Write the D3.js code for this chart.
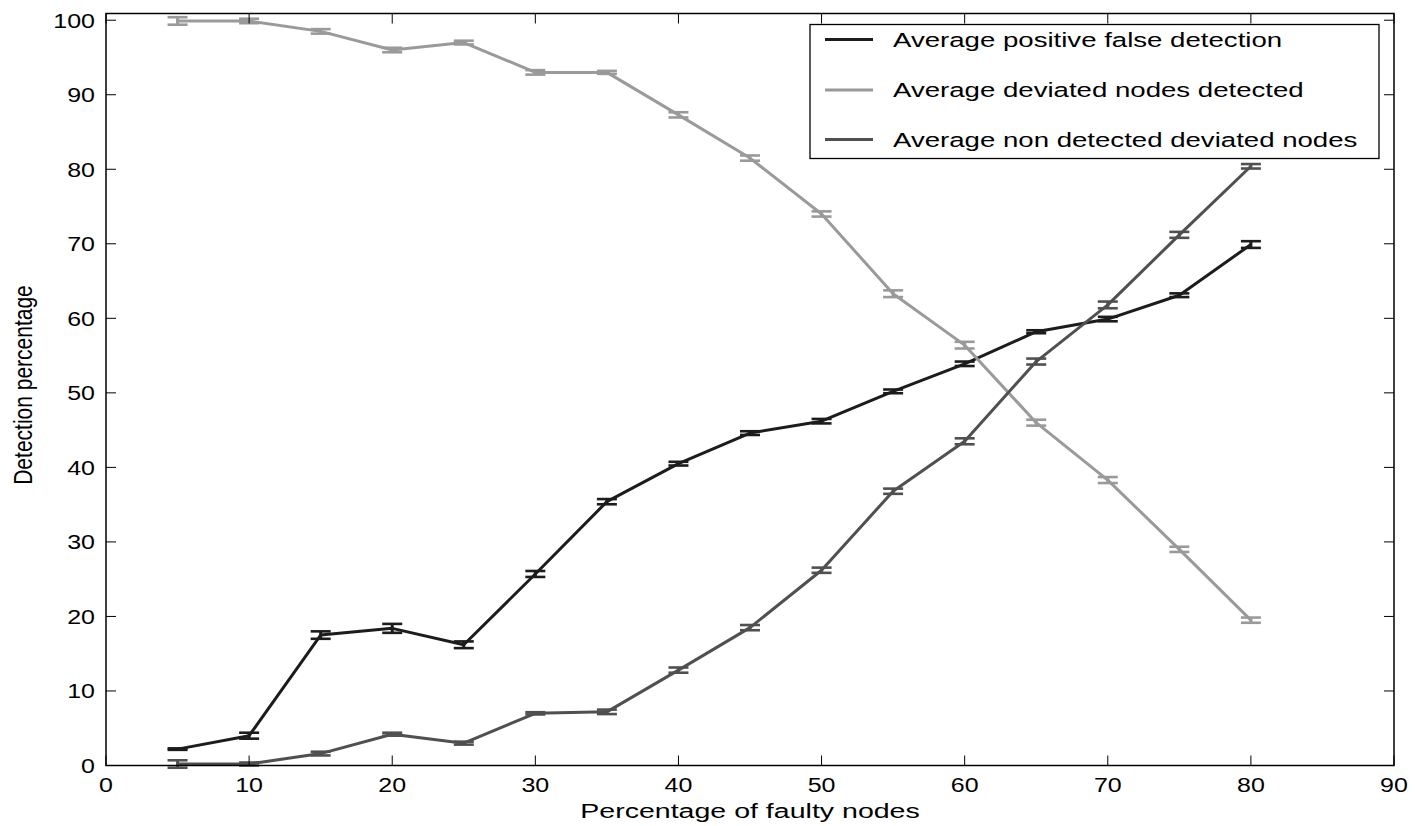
<!DOCTYPE html>
<html>
<head>
<meta charset="utf-8">
<script src="https://cdn.jsdelivr.net/npm/d3@7"></script>
<style>
  html, body { margin: 0; padding: 0; background: #fff; }
  svg { display: block; }
  text { font-family: "Liberation Sans", Arial, Helvetica, sans-serif; fill: #000; }
</style>
</head>
<body>
<svg id="chart" width="1415" height="826"></svg>
<script>
// Percentage of faulty nodes (x positions of the measurements)
const faultyPct = [5, 10, 15, 20, 25, 30, 35, 40, 45, 50, 55, 60, 65, 70, 75, 80];

// Mean detection percentages per series
const falsePositive   = [2.2, 4.0, 17.5, 18.4, 16.2, 25.7, 35.4, 40.5, 44.6, 46.2, 50.2, 53.9, 58.2, 59.9, 63.1, 69.9];
const deviatedFound   = [99.9, 99.9, 98.5, 96.0, 97.0, 93.0, 93.0, 87.3, 81.5, 74.0, 63.3, 56.4, 46.0, 38.3, 29.0, 19.5];
const deviatedMissed  = [0.2, 0.2, 1.6, 4.2, 3.0, 7.0, 7.2, 12.8, 18.5, 26.2, 36.8, 43.5, 54.2, 61.8, 71.2, 80.4];

// Half-widths of the error bars
const falsePositiveErr  = [0.1, 0.4, 0.5, 0.6, 0.45, 0.4, 0.35, 0.25, 0.25, 0.3, 0.25, 0.3, 0.2, 0.3, 0.25, 0.45];
const deviatedFoundErr  = [0.5, 0.3, 0.3, 0.3, 0.25, 0.3, 0.2, 0.35, 0.35, 0.35, 0.45, 0.45, 0.4, 0.4, 0.35, 0.35];
const deviatedMissedErr = [0.5, 0.2, 0.25, 0.2, 0.2, 0.15, 0.3, 0.35, 0.35, 0.35, 0.35, 0.4, 0.4, 0.45, 0.4, 0.3];

// Axis ticks and labels
const xTicks = [0, 10, 20, 30, 40, 50, 60, 70, 80, 90];
const yTicks = [0, 10, 20, 30, 40, 50, 60, 70, 80, 90, 100];
const seriesNames = [
  "Average positive false detection",
  "Average deviated nodes detected",
  "Average non detected deviated nodes"
];
const seriesColors = ["#1c1c1c", "#9a9a9a", "#505050"];
const xTitle = "Percentage of faulty nodes";
const yTitle = "Detection percentage";

const series = [
  { name: seriesNames[0], color: seriesColors[0], values: falsePositive, err: falsePositiveErr },
  { name: seriesNames[1], color: seriesColors[1], values: deviatedFound, err: deviatedFoundErr },
  { name: seriesNames[2], color: seriesColors[2], values: deviatedMissed, err: deviatedMissedErr }
];

const svg = d3.select("#chart");
const plot = { left: 106, right: 1394, top: 13.5, bottom: 765.5 };

const x = d3.scaleLinear().domain([0, 90]).range([plot.left, plot.right]);
const y = d3.scaleLinear().domain([0, 100.9]).range([plot.bottom, plot.top]);

const tickSX = 1.25;   // horizontal stretch of the lettering
const labelSX = 1.36;

// text helper: horizontally stretched label anchored at (px, py)
function label(g, px, py, str, size, sx, anchor) {
  const t = g.append("g").attr("transform", `translate(${px},${py}) scale(${sx},1)`);
  t.append("text").attr("x", 0).attr("y", 0)
    .attr("font-size", size).attr("text-anchor", anchor || "start").text(str);
  return t;
}

// series lines and error bars
const line = d3.line().x((d, i) => x(faultyPct[i])).y(d => y(d));
const capHalf = 10;
series.forEach(s => {
  const g = svg.append("g");
  g.append("path").datum(s.values)
    .attr("d", line).attr("fill", "none")
    .attr("stroke", s.color).attr("stroke-width", 3).attr("stroke-linejoin", "round");
  const bars = g.selectAll("g.eb").data(s.values).join("g");
  bars.append("line")
    .attr("x1", (d, i) => x(faultyPct[i])).attr("x2", (d, i) => x(faultyPct[i]))
    .attr("y1", (d, i) => y(d - s.err[i])).attr("y2", (d, i) => y(d + s.err[i]))
    .attr("stroke", s.color).attr("stroke-width", 3);
  [-1, 1].forEach(sign => {
    bars.append("line")
      .attr("x1", (d, i) => x(faultyPct[i]) - capHalf).attr("x2", (d, i) => x(faultyPct[i]) + capHalf)
      .attr("y1", (d, i) => y(d + sign * s.err[i])).attr("y2", (d, i) => y(d + sign * s.err[i]))
      .attr("stroke", s.color).attr("stroke-width", 2.6);
  });
});

// axes box with inward ticks on all four sides
const axisG = svg.append("g");
const tickLen = 10;
xTicks.forEach(t => {
  axisG.append("line").attr("x1", x(t)).attr("x2", x(t)).attr("y1", plot.bottom).attr("y2", plot.bottom - tickLen)
    .attr("stroke", "#000").attr("stroke-width", 1);
  axisG.append("line").attr("x1", x(t)).attr("x2", x(t)).attr("y1", plot.top).attr("y2", plot.top + tickLen)
    .attr("stroke", "#000").attr("stroke-width", 1);
  label(axisG, x(t), 792, String(t), 20, tickSX, "middle");
});
yTicks.forEach(t => {
  axisG.append("line").attr("x1", plot.left).attr("x2", plot.left + tickLen).attr("y1", y(t)).attr("y2", y(t))
    .attr("stroke", "#000").attr("stroke-width", 1);
  axisG.append("line").attr("x1", plot.right).attr("x2", plot.right - tickLen).attr("y1", y(t)).attr("y2", y(t))
    .attr("stroke", "#000").attr("stroke-width", 1);
  label(axisG, 95, y(t) + 7.3, String(t), 20, tickSX, "end");
});
axisG.append("rect")
  .attr("x", plot.left).attr("y", plot.top)
  .attr("width", plot.right - plot.left).attr("height", plot.bottom - plot.top)
  .attr("fill", "none").attr("stroke", "#000").attr("stroke-width", 1.5);

// axis titles
label(svg, (plot.left + plot.right) / 2, 818, xTitle, 21, labelSX, "middle");
svg.append("g").attr("transform", `translate(32,385) scale(1.2,1) rotate(-90)`)
  .append("text").attr("font-size", 21).attr("text-anchor", "middle").text(yTitle);

// legend
const leg = svg.append("g");
leg.append("rect").attr("x", 810).attr("y", 24.5).attr("width", 569).attr("height", 134)
  .attr("fill", "#fff").attr("stroke", "#000").attr("stroke-width", 1.3);
const legRows = [39.5, 90, 139.5];
series.forEach((s, i) => {
  leg.append("line").attr("x1", 825).attr("x2", 873).attr("y1", legRows[i]).attr("y2", legRows[i])
    .attr("stroke", s.color).attr("stroke-width", 3);
  label(leg, 893, legRows[i] + 7, s.name, 20.3, labelSX, "start");
});
</script>
</body>
</html>
